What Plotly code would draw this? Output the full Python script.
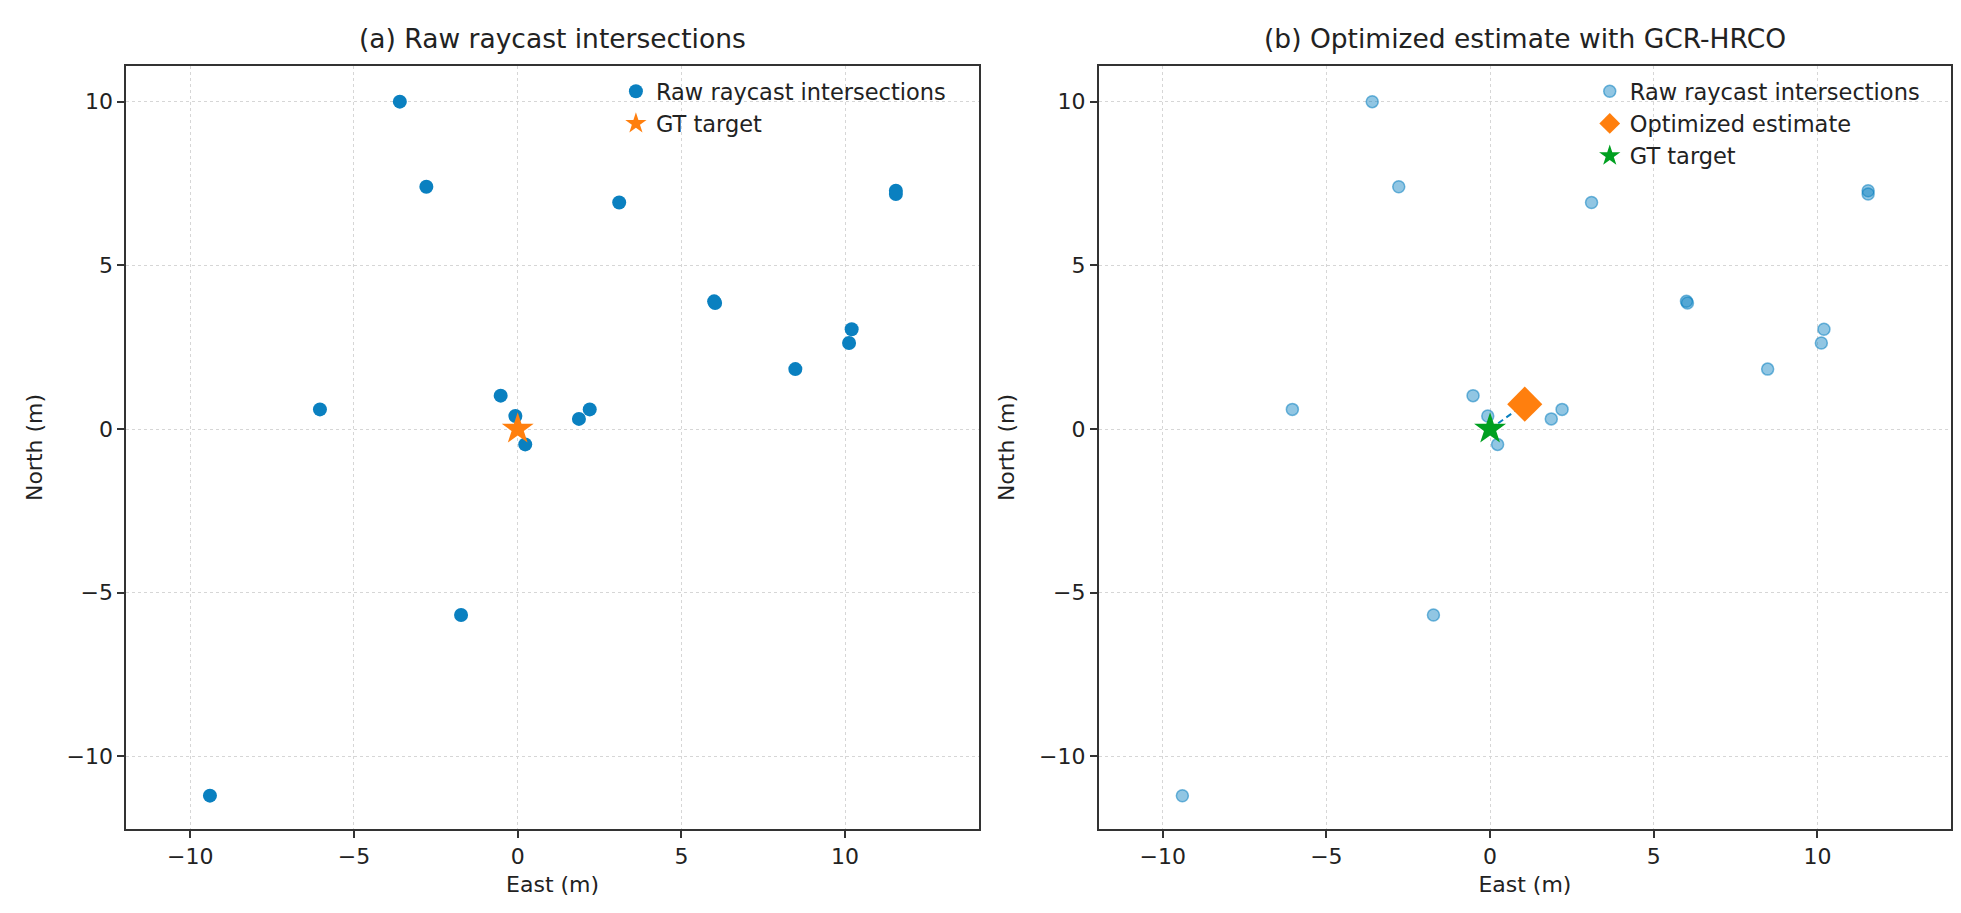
import plotly.graph_objects as go

# raycast intersection points (East, North) in metres
raw_east = [-3.60, -2.79, 3.10, 11.55, 11.55, 6.00, 6.03, 10.20, 10.12, 8.48,
            -6.04, -0.52, -0.07, 0.23, 1.87, 2.20, -1.73, -9.40]
raw_north = [10.00, 7.40, 6.92, 7.28, 7.18, 3.90, 3.85, 3.05, 2.63, 1.83,
             0.60, 1.02, 0.40, -0.47, 0.31, 0.60, -5.68, -11.20]

gt_east = [0.0]
gt_north = [0.0]

est_east = [1.06]
est_north = [0.76]

ticks = [-10, -5, 0, 5, 10]

BLUE = "#0a80c0"
ORANGE = "#ff7f0e"
GREEN = "#00a020"
FONT = "DejaVu Sans"

fig = go.Figure()

# (a) raw
fig.add_trace(go.Scatter(x=raw_east, y=raw_north, mode="markers", name="Raw raycast intersections",
                         marker=dict(size=14, color=BLUE), xaxis="x", yaxis="y", legend="legend"))
fig.add_trace(go.Scatter(x=gt_east, y=gt_north, mode="markers", name="GT target",
                         marker=dict(size=24, color=ORANGE, symbol="star"),
                         xaxis="x", yaxis="y", legend="legend"))

# (b) optimized
fig.add_trace(go.Scatter(x=raw_east, y=raw_north, mode="markers", name="Raw raycast intersections",
                         marker=dict(size=12, color="rgba(10,128,192,0.45)",
                                     line=dict(width=1.5, color="rgba(10,128,192,0.55)")),
                         xaxis="x2", yaxis="y2", legend="legend2"))
fig.add_trace(go.Scatter(x=gt_east + est_east, y=gt_north + est_north, mode="lines",
                         line=dict(color=BLUE, width=2, dash="6px,4px"), showlegend=False,
                         xaxis="x2", yaxis="y2", hoverinfo="skip"))
fig.add_trace(go.Scatter(x=est_east, y=est_north, mode="markers", name="Optimized estimate",
                         marker=dict(size=27, color=ORANGE, symbol="diamond"),
                         xaxis="x2", yaxis="y2", legend="legend2"))
fig.add_trace(go.Scatter(x=gt_east, y=gt_north, mode="markers", name="GT target",
                         marker=dict(size=24, color=GREEN, symbol="star"),
                         xaxis="x2", yaxis="y2", legend="legend2"))

axis_common = dict(
    showline=True, mirror=True, linecolor="#333333", linewidth=2,
    ticks="outside", ticklen=7, tickwidth=1.5, tickcolor="#333333",
    tickvals=ticks, tickfont=dict(size=22, color="#222222", family=FONT),
    showgrid=True, gridcolor="#d6d6d6", gridwidth=1, griddash="3px,3px",
    zeroline=False,
)
xr = [-11.95, 14.08]
yr = [-12.22, 11.09]
xtitle = dict(text="East (m)", font=dict(size=22), standoff=8)
ytitle = dict(text="North (m)", font=dict(size=22), standoff=18)

fig.update_layout(
    width=1961, height=913,
    margin=dict(l=0, r=0, t=0, b=0),
    paper_bgcolor="white", plot_bgcolor="white",
    font=dict(family=FONT, color="#222222"),
    xaxis=dict(domain=[0.0604, 0.4950], range=xr, anchor="y", title=xtitle, **axis_common),
    yaxis=dict(domain=[0.1007, 0.9365], range=yr, anchor="x", title=ytitle, **axis_common),
    xaxis2=dict(domain=[0.5563, 0.9908], range=xr, anchor="y2", title=xtitle, **axis_common),
    yaxis2=dict(domain=[0.1007, 0.9365], range=yr, anchor="x2", title=ytitle, **axis_common),
    legend=dict(x=0.310, y=0.932, xanchor="left", yanchor="top",
                bgcolor="rgba(0,0,0,0)", borderwidth=0, font=dict(size=22.5, family=FONT)),
    legend2=dict(x=0.8066, y=0.932, xanchor="left", yanchor="top",
                 bgcolor="rgba(0,0,0,0)", borderwidth=0, font=dict(size=22.5, family=FONT)),
    annotations=[
        dict(text="(a) Raw raycast intersections", x=0.2777, y=1 - 30 / 913, xref="paper", yref="paper",
             xanchor="center", yanchor="middle", showarrow=False,
             font=dict(size=26.5, family=FONT, color="#222222")),
        dict(text="(b) Optimized estimate with GCR-HRCO", x=0.7736, y=1 - 30 / 913, xref="paper", yref="paper",
             xanchor="center", yanchor="middle", showarrow=False,
             font=dict(size=26.5, family=FONT, color="#222222")),
    ],
)

fig.write_html("out.html")
